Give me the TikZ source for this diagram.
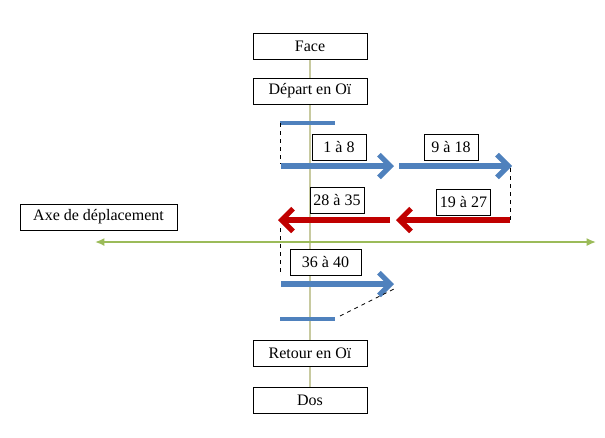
\documentclass[tikz,border=0pt]{standalone}
\usepackage{fontspec}
\setmainfont{Liberation Serif}
\usetikzlibrary{arrows.meta,backgrounds}
\definecolor{moveblue}{RGB}{79,129,189}
\definecolor{movered}{RGB}{192,0,0}
\definecolor{axegreen}{RGB}{155,187,89}
\definecolor{midline}{RGB}{200,202,160}

\begin{document}
\begin{tikzpicture}[
  x=0.75pt, y=-0.75pt,
  box/.style={rectangle, draw=black, fill=white, line width=0.75pt, inner sep=0pt, minimum height=19.5pt, text centered, font=\fontsize{12}{14}\selectfont},
  bigbox/.style={box, minimum width=85.5pt},
  numbox/.style={box, minimum width=40.5pt},
  move/.style={line width=3.9pt, -{Straight Barb[length=8.5pt, width=17pt]}},
  bar/.style={line width=3pt, moveblue},
  link/.style={dashed, line width=0.6pt, black}
]
  \useasboundingbox (0,0) rectangle (605,437);

  % boxes along the middle line
  \node[bigbox] (face) at (310,46) {Face};
  \node[bigbox] (depart) at (310,91) {Départ en Oï};
  \node[bigbox] (retour) at (310,353) {Retour en Oï};
  \node[bigbox] (dos) at (310,400) {Dos};
  \node[box, minimum width=117.75pt] (axe) at (98.5,217) {Axe de déplacement};

  \begin{scope}[on background layer]
    \draw[midline, line width=1.1pt] (face.south) -- (dos.north);
  \end{scope}

  % end points of the moves
  \coordinate (topL) at (280,123);
  \coordinate (topR) at (335,123);
  \coordinate (m1s) at (281,166);
  \coordinate (m1e) at (394,166);
  \coordinate (m2s) at (399,166);
  \coordinate (m2e) at (512,166);
  \coordinate (m3s) at (510,220);
  \coordinate (m3e) at (396,220);
  \coordinate (m4s) at (390,220);
  \coordinate (m4e) at (278,220);
  \coordinate (m5s) at (281,284);
  \coordinate (m5e) at (394,284);
  \coordinate (botL) at (280,319);
  \coordinate (botR) at (335,319);
  \coordinate (axL) at (95,242);
  \coordinate (axR) at (596,242);

  \draw[axegreen, line width=1.3pt, {Latex[length=7pt, width=6pt]}-{Latex[length=7pt, width=6pt]}] (axL) -- (axR);

  \draw[bar] (topL) -- (topR);
  \draw[bar] (botL) -- (botR);
  \draw[move, moveblue] (m1s) -- (m1e);
  \draw[move, moveblue] (m2s) -- (m2e);
  \draw[move, movered] (m3s) -- (m3e);
  \draw[move, movered] (m4s) -- (m4e);
  \draw[move, moveblue] (m5s) -- (m5e);

  % dashed links between the moves
  \coordinate (d1) at (280,228);
  \coordinate (d2) at (280,272);
  \coordinate (d3) at (340,316);
  \coordinate (d4) at (396,288);
  \draw[link] (topL) -- (280,164);
  \draw[link] (510,168) -- (m3s);
  \draw[link] (d1) -- (d2);
  \draw[link] (d3) -- (d4);

  % counts
  \node[numbox] (n1) at (339,147.5) {1 à 8};
  \node[numbox] (n2) at (451,147) {9 à 18};
  \node[numbox] (n3) at (463.5,202.5) {19 à 27};
  \node[numbox] (n4) at (337,200.5) {28 à 35};
  \node[box, minimum width=53.25pt] (n5) at (325.5,262.5) {36 à 40};
\end{tikzpicture}
\end{document}
